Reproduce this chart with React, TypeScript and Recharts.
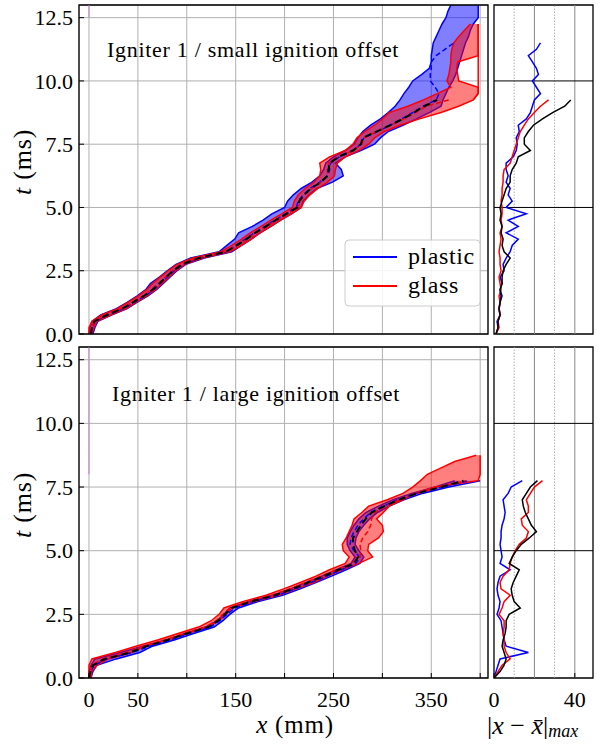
import React from 'react';
import { ComposedChart, Area, Line, XAxis, YAxis, CartesianGrid, ReferenceLine, ReferenceArea } from 'recharts';

// time grid (ms), shared by every panel
const T = [0, 0.25, 0.5, 0.75, 1, 1.25, 1.5, 1.75, 2, 2.25, 2.5, 2.75, 3, 3.25, 3.5, 3.75, 4, 4.25, 4.5, 4.75,
  5, 5.25, 5.5, 5.75, 6, 6.25, 6.5, 6.75, 7, 7.25, 7.5, 7.75, 8, 8.25, 8.5, 8.75, 9, 9.25, 9.5, 9.75,
  10, 10.25, 10.5, 10.75, 11, 11.25, 11.5, 11.75, 12, 12.25, 12.5, 12.75, 13];

type N = number | null;

// --- top panel: small ignition offset (x in mm) ---
const topMean: N[] = [2, 3, 5.5, 18, 34, 45, 56, 65, 72, 79, 86, 95, 112, 140, 151, 161, 170, 181, 191, 202,
  213, 215, 220, 227, 237, 244, 245, 246, 255, 270, 278, 280, 294, 308, 321, 332, 343, 356];
const topPlasticMean: N[] = [2, 3, 6, 19, 35, 46, 57, 66, 73, 80, 87, 96, 113, 141, 150, 160, 169, 180, 190, 201,
  212, 214, 219, 226, 236, 244, 246, 247, 256, 270, 278, 281, 295, 308, 320, 331, 342, 355, 358, 354,
  349, 349, 350, 350, 355, 364, 373];
const topGlassMean: N[] = [2, 3, 5, 17, 33, 44, 55, 64, 71, 78, 85, 94, 111, 139, 152, 162, 171, 182, 192, 203,
  214, 216, 221, 228, 238, 244, 244, 245, 254, 270, 279, 281, 294, 309, 322, 334, 345, 368];
const topPlasticLo: N[] = [0, 1, 3, 12, 28, 39, 49, 58, 63, 72, 80, 89, 104, 133, 141, 149, 153, 167, 178, 187,
  200, 203, 209, 217, 228, 236, 240, 242, 250, 262, 271, 275, 280, 288, 298, 306, 313, 318, 322, 327,
  331, 340, 348, 350, 350, 351, 352, 355, 358, 361, 365, 367, 370];
const topPlasticHi: N[] = [4, 6, 9, 23, 39, 49, 60, 69, 76, 83, 90, 99, 118, 146, 156, 166, 175, 186, 196, 207,
  217, 219, 225, 233, 249, 260, 258, 252, 262, 278, 292, 298, 306, 321, 335, 348, 360, 362, 365, 368,
  372, 375, 377, 379, 381, 383, 385, 388, 390, 393, 398, 398, 398];
const topGlassLo: N[] = [0, 0, 3, 13, 29, 40, 50, 59, 65, 73, 81, 90, 106, 135, 146, 156, 165, 176, 186, 197,
  208, 210, 214, 221, 230, 236, 237, 236, 246, 262, 270, 274, 282, 292, 300, 307, 326, 342, 356, 370,
  366, 368, 369, 370, 370, 371, 373, 378, 384, 390];
const topGlassHi: N[] = [3, 5, 8, 22, 38, 48, 59, 68, 75, 82, 89, 98, 116, 144, 156, 166, 175, 186, 196, 207,
  217, 220, 226, 234, 244, 251, 252, 254, 262, 276, 286, 292, 302, 318, 338, 360, 378, 393, 398, 398,
  378, 377, 376, 377, 398, 398, 398, 398, 398, 398];
const topGlassEdge: N[] = [null, null, null, null, null, null, null, null, null, null, null, null, null, null, null,
  null, null, null, null, null, null, null, null, null, null, null, null, null, null, null, null, null, null,
  null, null, null, null, 393, 398, 398, 398, 398, 398, 398, 398, 398, 398, 398, 398, 398];
const topTail: N[] = [null, null, null, null, null, null, null, null, null, null, null, null, null, null, null,
  null, null, null, null, null, null, null, null, null, null, null, null, null, null, null, null, null, null,
  null, null, null, null, null, null, null, null, null, null, null, null, null, null, null, null, null, 0, 0, 0];

// --- bottom panel: large ignition offset ---
const botMean: N[] = [0, 1.5, 4, 16, 42, 59, 81, 100, 122, 132, 139, 146, 165, 190, 208, 224, 240, 255, 271, 275,
  272, 270, 270, 274, 278, 283, 289, 302, 317, 335, 360, 383];
const botPlasticMean: N[] = [0, 2, 5, 18, 44, 62, 84, 102, 124, 134, 141, 149, 168, 193, 211, 227, 243, 258, 273, 277,
  271, 267, 268, 271, 275, 281, 288, 301, 316, 335, 361, 388];
const botGlassMean: N[] = [0, 1, 3, 14, 38, 56, 78, 97, 119, 130, 137, 144, 162, 187, 205, 222, 237, 253, 269, 277,
  278, 277, 280, 285, 288, 289, 292, 303, 318, 336, 359, 385];
const botPlasticLo: N[] = [0, 0, 2, 6, 32, 55, 79, 98, 119, 131, 138, 144, 163, 188, 206, 222, 238, 253, 268, 272,
  267, 264, 264, 267, 271, 276, 283, 296, 311, 330, 354, 374];
const botPlasticHi: N[] = [2, 4, 8, 28, 52, 65, 88, 107, 128, 137, 144, 153, 173, 198, 216, 232, 248, 263, 277, 281,
  276, 272, 273, 276, 281, 287, 295, 307, 322, 341, 368, 400];
const botGlassLo: N[] = [0, 0, 0, 3, 27, 48, 71, 91, 112, 125, 133, 138, 157, 181, 199, 216, 232, 246, 262, 266,
  260, 259, 263, 266, 269, 271, 279, 286, 305, 321, 331, 339, 346, 360, 374, 396];
const botGlassHi: N[] = [2, 3, 8, 20, 44, 58, 81, 101, 121, 133, 140, 146, 169, 194, 212, 230, 244, 259, 276, 290,
  285, 286, 296, 301, 300, 294, 301, 307, 321, 333, 354, 398, 400, 400, 400, 400];
const botTail: N[] = [null, null, null, null, null, null, null, null, null, null, null, null, null, null, null,
  null, null, null, null, null, null, null, null, null, null, null, null, null, null, null, null, null,
  0, 0, 0, 0, 0, 0, 0, 0, 0, 0, 0, 0, 0, 0, 0, 0, 0, 0, 0, 0, 0];

// --- right panels: |x - x̄|max ---
const devTopPlastic: N[] = [1, 2, 1.5, 3, 2.5, 3, 4, 3, 4, 3, 5, 4.5, 6, 8, 9, 12, 6, 12, 7, 16,
  6, 9, 7, 8, 6, 7, 6, 6, 9.5, 11, 11.5, 11, 12.5, 12, 16, 18, 19, 20, 23, 21, 19, 22, 21, 19, 17, 21, 23];
const devTopGlass: N[] = [1, 2.5, 2, 3, 2.5, 3, 2.5, 3.5, 3, 2.5, 3.5, 3, 3, 2.5, 3, 3.5, 3, 4, 3.5, 4,
  4, 3.5, 4, 4, 4.5, 4.5, 5, 8, 9, 10, 11, 12, 13, 15, 17, 20, 23, 27];
const devTopAll: N[] = [1, 2, 2, 3, 2.5, 3, 3.5, 3, 4, 4, 4.5, 6, 8, 5, 4, 4.5, 3.5, 4, 3, 3.5,
  3, 4, 5, 6, 8, 8, 9, 11, 12, 18, 15, 15, 17, 19.5, 24, 29, 35, 38];
const devBotPlastic: N[] = [0, 1, 2, 3, 17, 6, 5, 4.5, 4, 3.5, 1.5, 2.5, 3, 2, 1.5, 2, 3, 8, 3, 4,
  3.5, 3, 3.5, 3.5, 4, 5, 5.5, 5, 4.5, 7, 8.5, 14];
const devBotGlass: N[] = [0, 2, 4, 8, 6, 5, 5, 4.5, 5, 5, 2.5, 4, 5, 8, 3.5, 3, 4.5, 7.5, 8, 9,
  10.5, 12.5, 16, 17, 14, 13.5, 17, 17, 16, 18, 20, 24];
const devBotAll: N[] = [0, 3, 5, 6, 5, 4, 4.5, 5.5, 6, 6, 7.5, 13, 10, 9, 8.5, 9.5, 11, 12.5, 7.5, 9,
  11, 13.5, 17.5, 21, 18.5, 17, 15.5, 14.5, 14, 16, 18, 21.5];

const X_TICKS = [0, 50, 100, 150, 200, 250, 300, 350, 400];
const X_LABELED = [0, 50, 150, 250, 350];
const T_TICKS = [0, 2.5, 5, 7.5, 10, 12.5];
const X_MIN = -10.2;
const X_MAX = 408;
const DEV_MAX = 49;

const SERIF = 'Liberation Serif, serif';
const BLUE = '#0000ff';
const RED = '#ff0000';
const tickText: React.CSSProperties = { fontFamily: SERIF, fontSize: 22 };

const at = (a: N[], i: number): N => (a[i] === undefined ? null : a[i]);
const band = (lo: N[], hi: N[], i: number) => {
  const l = at(lo, i);
  const h = at(hi, i);
  return l == null || h == null ? [null, null] : [l, h];
};

const topData = T.map((t, i) => ({
  t,
  pBand: band(topPlasticLo, topPlasticHi, i),
  gBand: band(topGlassLo, topGlassHi, i),
  pMean: at(topPlasticMean, i),
  gMean: at(topGlassMean, i),
  mean: at(topMean, i),
  edge: at(topGlassEdge, i),
  tail: at(topTail, i),
}));

const botData = T.map((t, i) => ({
  t,
  pBand: band(botPlasticLo, botPlasticHi, i),
  gBand: band(botGlassLo, botGlassHi, i),
  pMean: at(botPlasticMean, i),
  gMean: at(botGlassMean, i),
  mean: at(botMean, i),
  edge: null,
  tail: at(botTail, i),
}));

const devTop = T.map((t, i) => ({ t, p: at(devTopPlastic, i), g: at(devTopGlass, i), a: at(devTopAll, i) }));
const devBot = T.map((t, i) => ({ t, p: at(devBotPlastic, i), g: at(devBotGlass, i), a: at(devBotAll, i) }));

const renderYTick = (props: any) => {
  const { x, y, payload } = props;
  return (
    <g>
      <text x={x} y={y} dy="0.35em" textAnchor="end" style={tickText} fill="#000">
        {Number(payload.value).toFixed(1)}
      </text>
      <line x1={x + 6} x2={x + 11} y1={y} y2={y} stroke="#000" strokeWidth={1} />
    </g>
  );
};

const makeXTick = (labeled: number[]) => (props: any) => {
  const { x, y, payload } = props;
  const show = labeled.includes(payload.value);
  return (
    <g>
      <line x1={x} x2={x} y1={y - 10} y2={y - 15} stroke="#000" strokeWidth={1} />
      {show && (
        <text x={x} y={y} dy={19} textAnchor="middle" style={tickText} fill="#000">
          {payload.value}
        </text>
      )}
    </g>
  );
};

const MainPanel = ({ data, showX }: { data: any[]; showX: boolean }) => (
  <ComposedChart
    layout="vertical"
    width={490}
    height={showX ? 376 : 348}
    data={data}
    margin={{ top: 5, right: 2, bottom: showX ? 0 : 14, left: 0 }}
  >
    <CartesianGrid stroke="#b0b0b0" strokeWidth={1} />
    <XAxis
      type="number"
      domain={[X_MIN, X_MAX]}
      ticks={X_TICKS}
      allowDataOverflow
      hide={!showX}
      height={40}
      axisLine={false}
      tickLine={false}
      tickSize={0}
      tickMargin={10}
      interval={0}
      tick={makeXTick(X_LABELED)}
    />
    <YAxis
      type="number"
      dataKey="t"
      domain={[0, 13]}
      ticks={T_TICKS}
      allowDataOverflow
      reversed
      width={79}
      axisLine={false}
      tickLine={false}
      tickSize={0}
      tickMargin={6}
      interval={0}
      tick={renderYTick}
    />
    <Area type="linear" dataKey="pBand" stroke={BLUE} strokeWidth={1.5} fill={BLUE} fillOpacity={0.5}
      dot={false} activeDot={false} isAnimationActive={false} />
    <Area type="linear" dataKey="gBand" stroke={RED} strokeWidth={1.5} fill={RED} fillOpacity={0.5}
      dot={false} activeDot={false} isAnimationActive={false} />
    <Line type="linear" dataKey="edge" stroke={RED} strokeWidth={1.5} dot={false} activeDot={false}
      isAnimationActive={false} />
    <Line type="linear" dataKey="tail" stroke="#c080d0" strokeWidth={1} dot={false} activeDot={false}
      isAnimationActive={false} />
    <Line type="linear" dataKey="pMean" stroke={BLUE} strokeWidth={1.5} strokeDasharray="5 3" dot={false}
      activeDot={false} isAnimationActive={false} />
    <Line type="linear" dataKey="gMean" stroke={RED} strokeWidth={1.5} strokeDasharray="5 3" dot={false}
      activeDot={false} isAnimationActive={false} />
    <Line type="linear" dataKey="mean" stroke="#000" strokeWidth={2} strokeDasharray="7 4" dot={false}
      activeDot={false} isAnimationActive={false} />
    <ReferenceArea x1={X_MIN} x2={X_MAX} y1={0} y2={13} fill="none" stroke="#000" strokeWidth={1.3}
      ifOverflow="visible" />
  </ComposedChart>
);

const DevPanel = ({ data, showX }: { data: any[]; showX: boolean }) => (
  <ComposedChart
    layout="vertical"
    width={111}
    height={showX ? 376 : 340}
    data={data}
    margin={{ top: 5, right: 2, bottom: showX ? 0 : 6, left: 10 }}
  >
    <XAxis
      type="number"
      domain={[0, DEV_MAX]}
      ticks={[0, 40]}
      allowDataOverflow
      hide={!showX}
      height={40}
      axisLine={false}
      tickLine={false}
      tickSize={0}
      tickMargin={10}
      interval={0}
      tick={makeXTick([0, 40])}
    />
    <YAxis type="number" dataKey="t" domain={[0, 13]} ticks={T_TICKS} allowDataOverflow reversed hide />
    <ReferenceLine x={10} stroke="#999" strokeWidth={0.8} strokeDasharray="1.5 1.5" />
    <ReferenceLine x={30} stroke="#999" strokeWidth={0.8} strokeDasharray="1.5 1.5" />
    <ReferenceLine x={20} stroke="#888" strokeWidth={1} />
    <ReferenceLine x={40} stroke="#888" strokeWidth={1} />
    <ReferenceLine y={5} stroke="#000" strokeWidth={1} />
    <ReferenceLine y={10} stroke="#000" strokeWidth={1} />
    <Line type="linear" dataKey="p" stroke={BLUE} strokeWidth={1.5} dot={false} activeDot={false}
      isAnimationActive={false} />
    <Line type="linear" dataKey="g" stroke={RED} strokeWidth={1.5} dot={false} activeDot={false}
      isAnimationActive={false} />
    <Line type="linear" dataKey="a" stroke="#000" strokeWidth={1.5} dot={false} activeDot={false}
      isAnimationActive={false} />
    <ReferenceArea x1={0} x2={DEV_MAX} y1={0} y2={13} fill="none" stroke="#000" strokeWidth={1.3}
      ifOverflow="visible" />
  </ComposedChart>
);

const abs = (left: number, top: number): React.CSSProperties => ({ position: 'absolute', left, top });

export default function App() {
  return (
    <div style={{ position: 'absolute', left: 0, top: 0, width: 613, height: 744, background: '#fff', overflow: 'hidden' }}>
      <div style={abs(0, 0)}><MainPanel data={topData} showX={false} /></div>
      <div style={abs(0, 342)}><MainPanel data={botData} showX /></div>
      <div style={abs(484, 0)}><DevPanel data={devTop} showX={false} /></div>
      <div style={abs(484, 342)}><DevPanel data={devBot} showX /></div>

      <svg width={613} height={744} style={{ position: 'absolute', left: 0, top: 0, pointerEvents: 'none', fontFamily: SERIF }}>
        <text x={107} y={57} style={{ fontSize: 22, letterSpacing: 0.7 }}>Igniter 1 / small ignition offset</text>
        <text x={112} y={401} style={{ fontSize: 22, letterSpacing: 0.7 }}>Igniter 1 / large ignition offset</text>

        <g>
          <rect x={345} y={240} width={135} height={66} rx={4} fill="#fff" fillOpacity={0.85} stroke="#cccccc" />
          <line x1={353} x2={397} y1={257} y2={257} stroke={BLUE} strokeWidth={2} />
          <line x1={353} x2={397} y1={286} y2={286} stroke={RED} strokeWidth={2} />
          <text x={408} y={264} style={{ fontSize: 24, letterSpacing: 0.6 }}>plastic</text>
          <text x={408} y={293} style={{ fontSize: 24, letterSpacing: 0.6 }}>glass</text>
        </g>

        <text transform="translate(31,162) rotate(-90)" textAnchor="middle" style={{ fontSize: 26, letterSpacing: 0.8 }}>
          <tspan fontStyle="italic">t</tspan> (ms)
        </text>
        <text transform="translate(31,505) rotate(-90)" textAnchor="middle" style={{ fontSize: 26, letterSpacing: 0.8 }}>
          <tspan fontStyle="italic">t</tspan> (ms)
        </text>
        <text x={295} y={733} textAnchor="middle" style={{ fontSize: 25, letterSpacing: 0.8 }}>
          <tspan fontStyle="italic">x</tspan> (mm)
        </text>
        <text x={487} y={734} style={{ fontSize: 26 }}>
          |<tspan fontStyle="italic">x</tspan> − <tspan fontStyle="italic">x̄</tspan>|<tspan fontStyle="italic" style={{ fontSize: 18 }} dy={3}>max</tspan>
        </text>
      </svg>
    </div>
  );
}
